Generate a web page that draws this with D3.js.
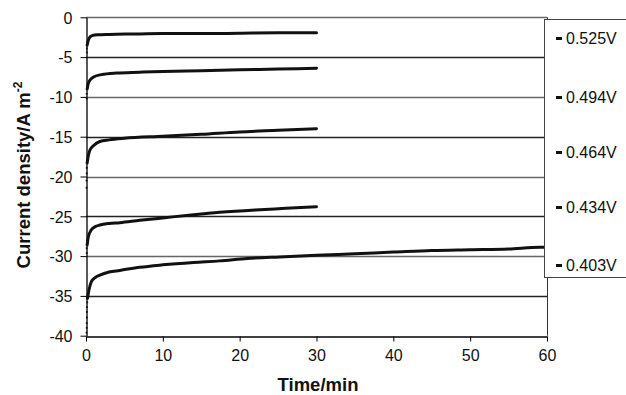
<!DOCTYPE html>
<html><head><meta charset="utf-8">
<script src="https://cdn.jsdelivr.net/npm/d3@7"></script>
<style>body{margin:0;background:#fff}svg{display:block;font-family:"Liberation Sans",Arial,sans-serif}</style>
</head><body><svg id="c" width="626" height="395"></svg>
<script>
const xTicks = [0,10,20,30,40,50,60];
const yTicks = [0,-5,-10,-15,-20,-25,-30,-35,-40];
const seriesNames = ["0.525V","0.494V","0.464V","0.434V","0.403V"];
// main (dense) part of each curve: [time/min, current density]
const s525 = [[0.15,-3.5],[0.3,-2.9],[0.5,-2.5],[0.8,-2.3],[1.5,-2.2],[3,-2.15],[6,-2.1],[10,-2.05],[15,-2.05],[20,-2.0],[25,-1.95],[30,-1.95]];
const s494 = [[0.15,-9.0],[0.3,-8.3],[0.6,-7.8],[1,-7.5],[2,-7.2],[4,-7.0],[7,-6.9],[10,-6.8],[15,-6.7],[20,-6.6],[25,-6.5],[30,-6.4]];
const s464 = [[0.15,-18.3],[0.3,-17.4],[0.5,-16.7],[1,-16.1],[1.8,-15.6],[3,-15.4],[5,-15.2],[10,-14.95],[15,-14.7],[20,-14.4],[25,-14.2],[30,-14.0]];
const s434 = [[0.15,-28.6],[0.3,-27.6],[0.7,-26.7],[1.2,-26.3],[1.8,-26.1],[3,-25.9],[4.4,-25.8],[7,-25.5],[10,-25.2],[14,-24.8],[17.4,-24.5],[22,-24.2],[26,-24.0],[30,-23.8]];
const s403 = [[0.2,-35.3],[0.4,-34.2],[0.7,-33.2],[1.2,-32.7],[1.8,-32.4],[3,-32.0],[4.4,-31.8],[7,-31.4],[10,-31.1],[14,-30.8],[17.4,-30.6],[21,-30.3],[25.2,-30.1],[30,-29.9],[35,-29.7],[40,-29.5],[45,-29.3],[50,-29.2],[55,-29.1],[59.1,-28.9],[60,-28.9]];
// sparse initial points near t=0
const d525 = [[0.1,-3.9],[0.1,-4.4]];
const d494 = [[0.08,-9.6],[0.08,-10.2]];
const d464 = [[0.08,-18.9],[0.08,-19.6],[0.06,-20.5],[0.06,-21.4]];
const d434 = [[0.08,-29.0],[0.08,-29.6]];
const d403 = [[0.15,-35.8],[0.12,-36.4],[0.1,-37.0],[0.1,-37.7],[0.08,-38.4],[0.08,-39.0],[0.06,-39.6]];
const curves = [s525,s494,s464,s434,s403];
const dots = [d525,d494,d464,d434,d403];

const svg = d3.select("#c");
const L=86, R=547, T=17.3, B=335.7;
const x = d3.scaleLinear().domain([0,60]).range([L,R]);
const y = d3.scaleLinear().domain([-40,0]).range([B,T]);

// gridlines
svg.append("g").selectAll("line").data(yTicks.filter(v=>v>-40)).join("line")
  .attr("x1",L).attr("x2",R).attr("y1",d=>Math.round(y(d))+0.5).attr("y2",d=>Math.round(y(d))+0.5)
  .attr("stroke",(d,i)=>i%2? "#222":"#666").attr("stroke-width",1.3);
// right border
svg.append("line").attr("x1",R+0.5).attr("x2",R+0.5).attr("y1",T).attr("y2",B).attr("stroke","#333").attr("stroke-width",1);

// axes
const ax = svg.append("g").attr("transform",`translate(0,${Math.round(B)+0.5})`)
  .call(d3.axisBottom(x).tickValues(xTicks).tickFormat(d=>String(d)).tickSize(5).tickPadding(8).tickSizeOuter(0));
const ay = svg.append("g").attr("transform",`translate(${L+0.5},0)`)
  .call(d3.axisLeft(y).tickValues(yTicks).tickFormat(d=>String(d)).tickSize(6).tickPadding(8).tickSizeOuter(0));
[ax,ay].forEach(g=>{
  g.select(".domain").attr("stroke","#000").attr("stroke-width",1.3);
  g.selectAll(".tick line").attr("stroke","#000");
  g.selectAll("text").attr("font-size",16).attr("fill","#111").attr("font-family","Liberation Sans, Arial, sans-serif");
});
ay.selectAll(".tick text").attr("dy","0.36em");

// curves
const line = d3.line().x(d=>x(d[0])).y(d=>y(d[1])).curve(d3.curveMonotoneX);
svg.append("g").selectAll("path").data(curves).join("path")
  .attr("d",line).attr("fill","none").attr("stroke","#111").attr("stroke-width",3).attr("stroke-linecap","round");
svg.append("g").selectAll("g").data(dots).join("g").selectAll("rect").data(d=>d).join("rect")
  .attr("x",d=>x(d[0])-0.8).attr("y",d=>y(d[1])-0.8).attr("width",1.8).attr("height",1.8).attr("fill","#111");

// legend
const lg = svg.append("g");
lg.append("rect").attr("x",544.5).attr("y",19.5).attr("width",100).attr("height",258)
  .attr("fill","#fff").attr("stroke","#444").attr("stroke-width",1);
const legY = [38,97,152,207,265];
lg.selectAll("rect.m").data(seriesNames).join("rect").attr("class","m")
  .attr("x",556).attr("y",(d,i)=>legY[i]-1).attr("width",6).attr("height",3).attr("fill","#111");
lg.selectAll("text").data(seriesNames).join("text")
  .attr("x",566).attr("y",(d,i)=>legY[i]).attr("dy","0.36em")
  .attr("font-size",16).attr("fill","#111").text(d=>d);

// titles
svg.append("text").attr("x",318).attr("y",391).attr("text-anchor","middle")
  .attr("font-size",18.5).attr("font-weight","bold").attr("fill","#111").text("Time/min");
const yt = svg.append("text").attr("transform","translate(30,175) rotate(-90)").attr("text-anchor","middle")
  .attr("font-size",18.5).attr("font-weight","bold").attr("fill","#111");
yt.append("tspan").text("Current density/A m");
yt.append("tspan").attr("dy",-8).attr("font-size",12).text("-2");
</script></body></html>
